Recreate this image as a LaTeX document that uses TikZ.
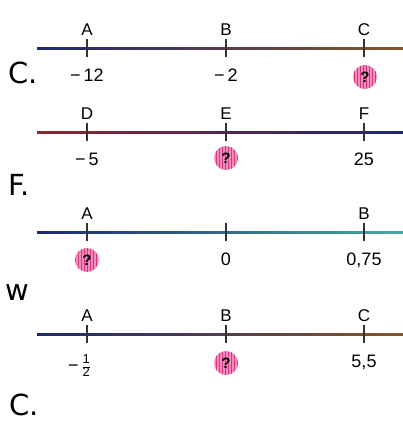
\documentclass[tikz,border=0pt]{standalone}
\usepackage{fontspec}
\setmainfont{Liberation Sans}
\newfontfamily\bigfont{DejaVu Sans}
\usetikzlibrary{positioning,calc,patterns}
\definecolor{nlblue}{RGB}{30,40,115}
\definecolor{nlgreen}{RGB}{40,110,85}
\definecolor{nlbrown}{RGB}{135,85,40}
\definecolor{nlred}{RGB}{140,40,45}
\definecolor{nlteal}{RGB}{70,170,165}
\definecolor{qpink}{RGB}{242,140,190}
\definecolor{qdeep}{RGB}{215,55,125}
\newcommand{\halfneg}{\textminus\hspace{4pt}$\vcenter{\hbox{\fontsize{13}{13}\selectfont\setlength{\tabcolsep}{0pt}\renewcommand{\arraystretch}{0.95}\begin{tabular}{c}1\\\hline 2\end{tabular}}}$}
\tikzset{
  tickmark/.style={inner sep=0pt, minimum width=0pt, minimum height=18pt},
  ptlabel/.style={inner sep=0pt, font=\fontsize{17}{19}\selectfont},
  num/.style={inner sep=0pt, font=\fontsize{18}{20}\selectfont},
  qmark/.style={circle, minimum size=24pt, inner sep=0pt, fill=qpink,
    postaction={pattern=vertical lines, pattern color=qdeep},
    font=\fontsize{15}{15}\selectfont\bfseries},
  bigletter/.style={inner sep=0pt, anchor=base west, font=\fontsize{29}{32}\bigfont},
  ticks/.style={line width=1.3pt, black!80}
}

\begin{document}
\begin{tikzpicture}[x=1pt, y=-1pt]
    \useasboundingbox (0,0) rectangle (403,421);
    % line 1
    \coordinate (s1) at (37,48);
    \coordinate (e1) at (403,48);
    \shade[left color=nlblue, middle color=nlgreen, right color=nlbrown] ($(s1)+(0,-1)$) rectangle ($(e1)+(0,1)$);
    \node[tickmark] (t1a) at (87,48) {};
    \node[tickmark] (t1b) at (226,48) {};
    \node[tickmark] (t1c) at (364,48) {};
    \draw[ticks] (t1a.north) -- (t1a.south);
    \draw[ticks] (t1b.north) -- (t1b.south);
    \draw[ticks] (t1c.north) -- (t1c.south);
    \node[ptlabel, above=3pt of t1a] (l1a) {A};
    \node[ptlabel, above=3pt of t1b] (l1b) {B};
    \node[ptlabel, above=3pt of t1c] (l1c) {C};
    \node[num, below=12pt of t1a] (n1a) {−\,12};
    \node[num, below=12pt of t1b] (n1b) {−\,2};
    \node[qmark] (q1) at (365,77) {?};
    \node[bigletter] (c1) at (8,83) {C.};

    % line 2
    \coordinate (s2) at (37,132);
    \coordinate (e2) at (403,132);
    \shade[left color=nlred, right color=nlblue] ($(s2)+(0,-1)$) rectangle ($(e2)+(0,1)$);
    \node[tickmark] (t2a) at (87,132) {};
    \node[tickmark] (t2b) at (226,132) {};
    \node[tickmark] (t2c) at (364,132) {};
    \draw[ticks] (t2a.north) -- (t2a.south);
    \draw[ticks] (t2b.north) -- (t2b.south);
    \draw[ticks] (t2c.north) -- (t2c.south);
    \node[ptlabel, above=3pt of t2a] (l2a) {D};
    \node[ptlabel, above=3pt of t2b] (l2b) {E};
    \node[ptlabel, above=3pt of t2c] (l2c) {F};
    \node[num, below=12pt of t2a] (n2a) {−\,5};
    \node[num, below=12pt of t2c] (n2c) {25};
    \node[qmark] (q2) at (226,158) {?};
    \node[bigletter] (c2) at (8,195) {F.};

    % line 3
    \coordinate (s3) at (37,232);
    \coordinate (e3) at (403,232);
    \shade[left color=nlblue, middle color=nlblue, right color=nlteal] ($(s3)+(0,-1)$) rectangle ($(e3)+(0,1)$);
    \node[tickmark] (t3a) at (87,232) {};
    \node[tickmark] (t3b) at (226,232) {};
    \node[tickmark] (t3c) at (364,232) {};
    \draw[ticks] (t3a.north) -- (t3a.south);
    \draw[ticks] (t3b.north) -- (t3b.south);
    \draw[ticks] (t3c.north) -- (t3c.south);
    \node[ptlabel, above=3pt of t3a] (l3a) {A};
    \node[ptlabel, above=3pt of t3c] (l3c) {B};
    \node[num, below=12pt of t3b] (n3b) {0};
    \node[num, below=12pt of t3c] (n3c) {0,75};
    \node[qmark] (q3) at (87,260) {?};
    \node[bigletter] (c3) at (5,300) {w};

    % line 4
    \coordinate (s4) at (37,334);
    \coordinate (e4) at (403,334);
    \shade[left color=nlblue, middle color=nlteal, right color=nlbrown] ($(s4)+(0,-1)$) rectangle ($(e4)+(0,1)$);
    \node[tickmark] (t4a) at (87,334) {};
    \node[tickmark] (t4b) at (226,334) {};
    \node[tickmark] (t4c) at (364,334) {};
    \draw[ticks] (t4a.north) -- (t4a.south);
    \draw[ticks] (t4b.north) -- (t4b.south);
    \draw[ticks] (t4c.north) -- (t4c.south);
    \node[ptlabel, above=3pt of t4a] (l4a) {A};
    \node[ptlabel, above=3pt of t4b] (l4b) {B};
    \node[ptlabel, above=3pt of t4c] (l4c) {C};
    \node[num] (n4a) at (79,367) {\halfneg};
    \node[num, below=12pt of t4c] (n4c) {5,5};
    \node[qmark] (q4) at (226,363) {?};
    \node[bigletter] (c4) at (9,415) {C.};
  \end{tikzpicture}
\end{document}
